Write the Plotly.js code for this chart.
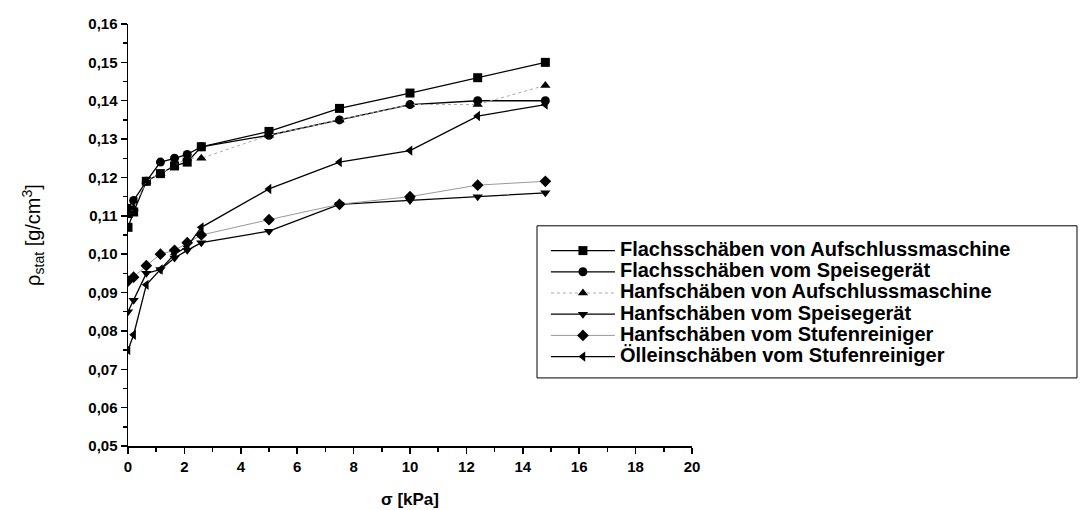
<!DOCTYPE html>
<html>
<head>
<meta charset="utf-8">
<script src="https://cdn.plot.ly/plotly-3.0.1.min.js"></script>
<style>html,body{margin:0;padding:0;background:#fff;}#chart{width:1080px;height:510px;}</style>
</head>
<body>
<div id="chart"></div>
<script>
// Normal stress sigma [kPa]
const sigma = [0, 0.2, 0.65, 1.15, 1.65, 2.1, 2.6, 5, 7.5, 10, 12.4, 14.8];

// Bulk density rho_stat [g/cm3]
const flachsAufschluss = [0.107, 0.111, 0.119, 0.121, 0.123, 0.124, 0.128, 0.132, 0.138, 0.142, 0.146, 0.150];
const flachsSpeise     = [0.112, 0.114, 0.119, 0.124, 0.125, 0.126, 0.128, 0.131, 0.135, 0.139, 0.140, 0.140];
const hanfAufschluss   = [0.110, 0.112, 0.119, 0.121, 0.123, 0.125, 0.125, 0.131, 0.135, 0.139, 0.139, 0.144];
const hanfSpeise       = [0.085, 0.088, 0.095, 0.096, 0.099, 0.101, 0.103, 0.106, 0.113, 0.114, 0.115, 0.116];
const hanfStufen       = [0.093, 0.094, 0.097, 0.100, 0.101, 0.103, 0.105, 0.109, 0.113, 0.115, 0.118, 0.119];
const oelleinStufen    = [0.075, 0.079, 0.092, 0.096, 0.100, 0.102, 0.107, 0.117, 0.124, 0.127, 0.136, 0.139];

const seriesNames = [
  "Flachsschäben von Aufschlussmaschine",
  "Flachsschäben vom Speisegerät",
  "Hanfschäben von Aufschlussmaschine",
  "Hanfschäben vom Speisegerät",
  "Hanfschäben vom Stufenreiniger",
  "Ölleinschäben vom Stufenreiniger"
];
const xTickVals = [0, 2, 4, 6, 8, 10, 12, 14, 16, 18, 20];
const yTickVals = [0.05, 0.06, 0.07, 0.08, 0.09, 0.10, 0.11, 0.12, 0.13, 0.14, 0.15, 0.16];

const seriesData = [flachsAufschluss, flachsSpeise, hanfAufschluss, hanfSpeise, hanfStufen, oelleinStufen];
const symbols = ["square", "circle", "triangle-up", "triangle-down", "diamond", "triangle-left"];
const lineStyles = [
  {color: "#000", width: 1.3},
  {color: "#000", width: 1.3},
  {color: "#aaa", width: 1, dash: "dot"},
  {color: "#000", width: 1.3},
  {color: "#999", width: 1},
  {color: "#000", width: 1.3}
];

const traces = seriesData.map((ys, i) => ({
  type: "scatter",
  mode: "lines+markers",
  x: sigma,
  y: ys,
  name: '<span style="font-size:20px">' + seriesNames[i] + '</span>',
  line: lineStyles[i],
  marker: {symbol: symbols[i], size: 9, color: "#000"}
}));

const layout = {
  width: 1080,
  height: 510,
  margin: {l: 128, r: 388, t: 24, b: 64},
  paper_bgcolor: "#fff",
  plot_bgcolor: "#fff",
  separators: ",.",
  font: {family: "Liberation Sans, Arial, sans-serif", color: "#000"},
  showlegend: true,
  legend: {
    x: 0.741, y: 0.50, xanchor: "left", yanchor: "top",
    borderwidth: 0, bgcolor: "rgba(0,0,0,0)",
    font: {size: 14, weight: "bold"},
    itemwidth: 64
  },
  shapes: [{
    type: "rect", xref: "paper", yref: "paper",
    x0: 0.7252, x1: 1.6826, y0: 0.1613, y1: 0.5218,
    line: {color: "#000", width: 1}, fillcolor: "rgba(0,0,0,0)", layer: "below"
  }],
  xaxis: {
    range: [0, 20],
    tickvals: xTickVals,
    ticktext: xTickVals.map(String),
    ticks: "outside", ticklen: 6, tickwidth: 1.5, tickcolor: "#000",
    minor: {dtick: 1, ticks: "outside", ticklen: 4, tickwidth: 1.5, tickcolor: "#000", showgrid: false},
    showline: true, linecolor: "#000", linewidth: 1.5,
    showgrid: false, zeroline: false,
    tickfont: {size: 15, weight: "bold"},
    title: {text: "σ [kPa]", font: {size: 17, weight: "bold"}, standoff: 19}
  },
  yaxis: {
    range: [0.05, 0.16],
    tickvals: yTickVals,
    ticktext: yTickVals.map(v => v.toFixed(2).replace(".", ",")),
    ticks: "outside", ticklen: 6, tickwidth: 1.5, tickcolor: "#000",
    minor: {dtick: 0.005, ticks: "outside", ticklen: 4, tickwidth: 1.5, tickcolor: "#000", showgrid: false},
    showline: true, linecolor: "#000", linewidth: 1.5,
    showgrid: false, zeroline: false,
    tickfont: {size: 15, weight: "bold"},
    title: {text: "ρ<sub>stat</sub> [g/cm<sup>3</sup>]", font: {size: 20}, standoff: 42}
  }
};

Plotly.newPlot("chart", traces, layout, {displayModeBar: false, staticPlot: true});
</script>
</body>
</html>
